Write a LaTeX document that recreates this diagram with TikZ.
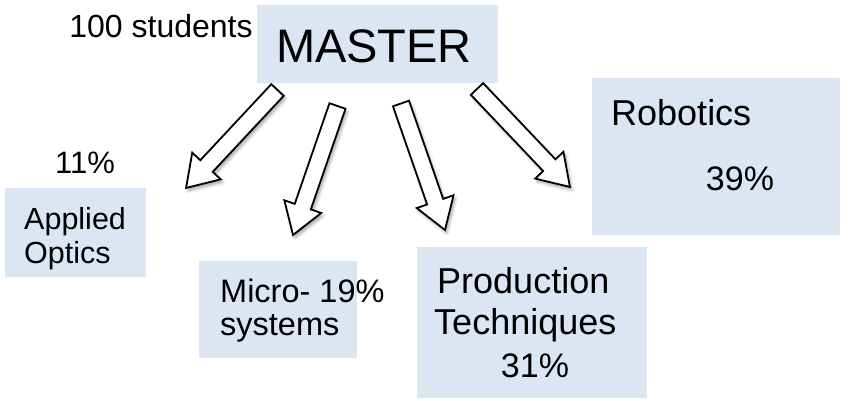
\documentclass[tikz,border=0pt]{standalone}
\usepackage{fontspec}
\setmainfont{Liberation Sans}
\usetikzlibrary{calc,shadows.blur}

\definecolor{boxblue}{HTML}{DCE6F2}

% one block arrow from a tail coordinate to a tip coordinate
\newcommand\blockarrow[2]{%
  \draw[bigarrow] let \p1=($(#2)-(#1)$), \n1={atan2(\y1,\x1)}, \n2={veclen(\x1,\y1)} in
    [shift={(#1)}, rotate=\n1]
    (0pt,-8.5pt) -- ({\n2-30pt},-8.5pt) -- ({\n2-30pt},-19.5pt) -- ({\n2},0pt)
    -- ({\n2-30pt},19.5pt) -- ({\n2-30pt},8.5pt) -- (0pt,8.5pt) -- cycle;}

\begin{document}
\begin{tikzpicture}[x=1pt,y=-1pt]
\tikzset{panel/.style = {fill=boxblue,inner sep=0pt,anchor=north west}}
\tikzset{txt/.style = {inner sep=0pt,anchor=base west}}
\tikzset{ctxt/.style = {inner sep=0pt,anchor=base}}
\tikzset{bigarrow/.style = {draw=black,fill=white,line width=1.8pt,line join=miter,
  blur shadow={shadow xshift=2pt,shadow yshift=-3pt,shadow blur radius=3pt,shadow opacity=35}}}
\useasboundingbox (0,0) rectangle (852,400);
% boxes
\node[panel,minimum width=241,minimum height=78]  (master)  at (257,5)   {};
\node[panel,minimum width=141,minimum height=89]  (optics)  at (5,188)   {};
\node[panel,minimum width=158,minimum height=97]  (micro)   at (199,261) {};
\node[panel,minimum width=230,minimum height=151] (prod)    at (417,247) {};
\node[panel,minimum width=248,minimum height=157] (robot)   at (592,78)  {};
% texts
\node[ctxt,font=\fontsize{32}{36}\selectfont] (students) at (161,37)  {100 students};
\node[ctxt,font=\fontsize{47}{52}\selectfont] (title)    at (374,62)  {MASTER};
\node[ctxt,font=\fontsize{31}{35}\selectfont] (p1)       at (85,173)  {11\%};
\node[txt,font=\fontsize{30.5}{34}\selectfont]  (o1)     at (24,229)  {Applied};
\node[txt,font=\fontsize{30.5}{34}\selectfont]  (o2)     at (24,263)  {Optics};
\node[txt,font=\fontsize{32.5}{36}\selectfont]  (m1)     at (220,302) {Micro- 19\%};
\node[txt,font=\fontsize{32.5}{36}\selectfont]  (m2)     at (220,335) {systems};
\node[txt,font=\fontsize{36}{40}\selectfont]  (r1)       at (611,125) {Robotics};
\node[ctxt,font=\fontsize{34}{38}\selectfont] (r2)       at (740,190) {39\%};
\node[txt,font=\fontsize{36}{40}\selectfont]  (q1)       at (437,293) {Production};
\node[txt,font=\fontsize{36}{40}\selectfont]  (q2)       at (434,334) {Techniques};
\node[ctxt,font=\fontsize{34}{38}\selectfont] (q3)       at (535,377) {31\%};
% arrow ends
\coordinate (t1) at (277.5,90);  \coordinate (h1) at (186,188);
\coordinate (t2) at (337.5,106); \coordinate (h2) at (293,235);
\coordinate (t3) at (401,103.5); \coordinate (h3) at (445,230);
\coordinate (t4) at (477,89);    \coordinate (h4) at (570,187);
% arrows
\blockarrow{t1}{h1}
\blockarrow{t2}{h2}
\blockarrow{t3}{h3}
\blockarrow{t4}{h4}
\end{tikzpicture}
\end{document}
